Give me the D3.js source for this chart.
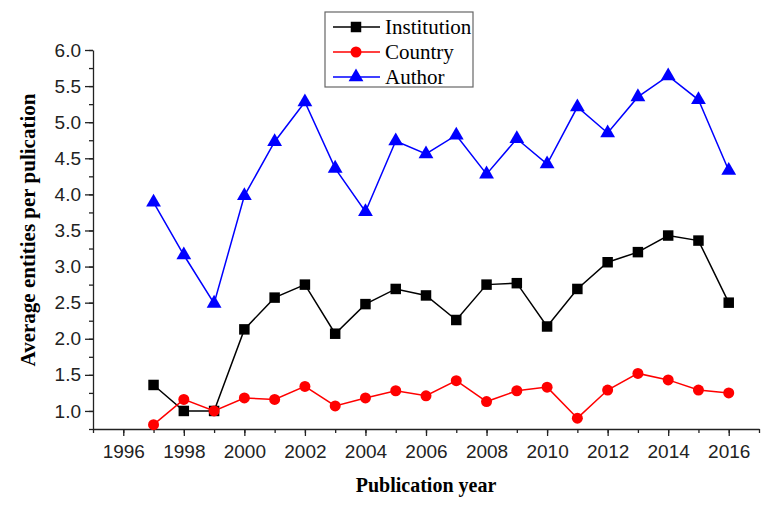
<!DOCTYPE html>
<html>
<head>
<meta charset="utf-8">
<script src="https://cdn.jsdelivr.net/npm/d3@7"></script>
<style>
  body { margin: 0; background: #fff; }
  svg { display: block; }
  .axis text { font-family: "Liberation Sans", Arial, sans-serif; font-size: 19px; fill: #222; }
  .axis path, .axis line { stroke: #222; stroke-width: 1.3; }
</style>
</head>
<body>
<div id="chart"></div>
<script>
const years = d3.range(1997, 2017);
const institution = [1.36, 1.0, 1.0, 2.13, 2.57, 2.75, 2.07, 2.48, 2.69, 2.60,
                     2.26, 2.75, 2.77, 2.17, 2.69, 3.06, 3.20, 3.43, 3.36, 2.50];
const country = [0.81, 1.16, 1.0, 1.18, 1.16, 1.34, 1.07, 1.18, 1.28, 1.21,
                 1.42, 1.13, 1.28, 1.33, 0.90, 1.29, 1.52, 1.43, 1.29, 1.25];
const author = [3.89, 3.16, 2.49, 3.98, 4.73, 5.28, 4.36, 3.76, 4.74, 4.56,
                4.82, 4.28, 4.77, 4.42, 5.21, 4.85, 5.35, 5.64, 5.31, 4.33];
const xTicks = d3.range(1996, 2017, 2);
const yTicks = [1.0, 1.5, 2.0, 2.5, 3.0, 3.5, 4.0, 4.5, 5.0, 5.5, 6.0];

const series = [
  {name: "Institution", values: institution, color: "#000000", shape: d3.symbolSquare, size: 110},
  {name: "Country", values: country, color: "#ff0000", shape: d3.symbolCircle, size: 95},
  {name: "Author", values: author, color: "#0000ff", shape: d3.symbolTriangle, size: 95}
];

const width = 776, height = 507;
const margin = {top: 50, right: 17, bottom: 78, left: 93};

const svg = d3.select("#chart").append("svg")
    .attr("width", width)
    .attr("height", height);

const x = d3.scaleLinear().domain([1995, 2017]).range([margin.left, width - margin.right]);
const y = d3.scaleLinear().domain([0.75, 6.0]).range([height - margin.bottom, margin.top]);

// minor ticks
svg.append("g")
    .attr("class", "axis")
    .attr("transform", `translate(0,${height - margin.bottom})`)
    .call(d3.axisBottom(x).tickValues(d3.range(1995, 2018)).tickSize(4).tickFormat(""))
    .call(g => g.select(".domain").remove());
svg.append("g")
    .attr("class", "axis")
    .attr("transform", `translate(${margin.left},0)`)
    .call(d3.axisLeft(y).tickValues(d3.range(0.75, 6.01, 0.25)).tickSize(4).tickFormat(""))
    .call(g => g.select(".domain").remove());

// major axes
svg.append("g")
    .attr("class", "axis")
    .attr("transform", `translate(0,${height - margin.bottom})`)
    .call(d3.axisBottom(x).tickValues(xTicks).tickSize(7).tickPadding(9).tickFormat(d3.format("d")).tickSizeOuter(0));
svg.append("g")
    .attr("class", "axis")
    .attr("transform", `translate(${margin.left},0)`)
    .call(d3.axisLeft(y).tickValues(yTicks).tickSize(8).tickPadding(4).tickFormat(d3.format(".1f")).tickSizeOuter(0));

// lines and markers
const line = d3.line()
    .x((d, i) => x(years[i]))
    .y(d => y(d));

series.forEach(s => {
  svg.append("path")
      .datum(s.values)
      .attr("fill", "none")
      .attr("stroke", s.color)
      .attr("stroke-width", 1.5)
      .attr("d", line);
  svg.append("g").selectAll("path")
      .data(s.values)
      .enter()
      .append("path")
      .attr("transform", (d, i) => `translate(${x(years[i])},${y(d)})`)
      .attr("d", d3.symbol().type(s.shape).size(s.size))
      .attr("fill", s.color);
});

// axis titles
svg.append("text")
    .attr("x", 426)
    .attr("y", 492)
    .attr("text-anchor", "middle")
    .style("font-family", "'Liberation Serif', 'Times New Roman', serif")
    .style("font-weight", "bold")
    .style("font-size", "20px")
    .text("Publication year");

svg.append("text")
    .attr("transform", "translate(35,230) rotate(-90)")
    .attr("text-anchor", "middle")
    .style("font-family", "'Liberation Serif', 'Times New Roman', serif")
    .style("font-weight", "bold")
    .style("font-size", "21px")
    .text("Average entities per pulication");

// legend
const legend = svg.append("g").attr("transform", "translate(325,12)");
legend.append("rect")
    .attr("width", 148)
    .attr("height", 75)
    .attr("fill", "#fff")
    .attr("stroke", "#666")
    .attr("stroke-width", 1.2);
series.forEach((s, i) => {
  const row = legend.append("g").attr("transform", `translate(0,${15 + i * 25})`);
  row.append("line")
      .attr("x1", 8).attr("x2", 55)
      .attr("stroke", s.color)
      .attr("stroke-width", 1.5);
  row.append("path")
      .attr("transform", "translate(31,0)")
      .attr("d", d3.symbol().type(s.shape).size(s.size))
      .attr("fill", s.color);
  row.append("text")
      .attr("x", 60)
      .attr("y", 7)
      .style("font-family", "'Liberation Serif', 'Times New Roman', serif")
      .style("font-size", "21px")
      .text(s.name);
});
</script>
</body>
</html>
